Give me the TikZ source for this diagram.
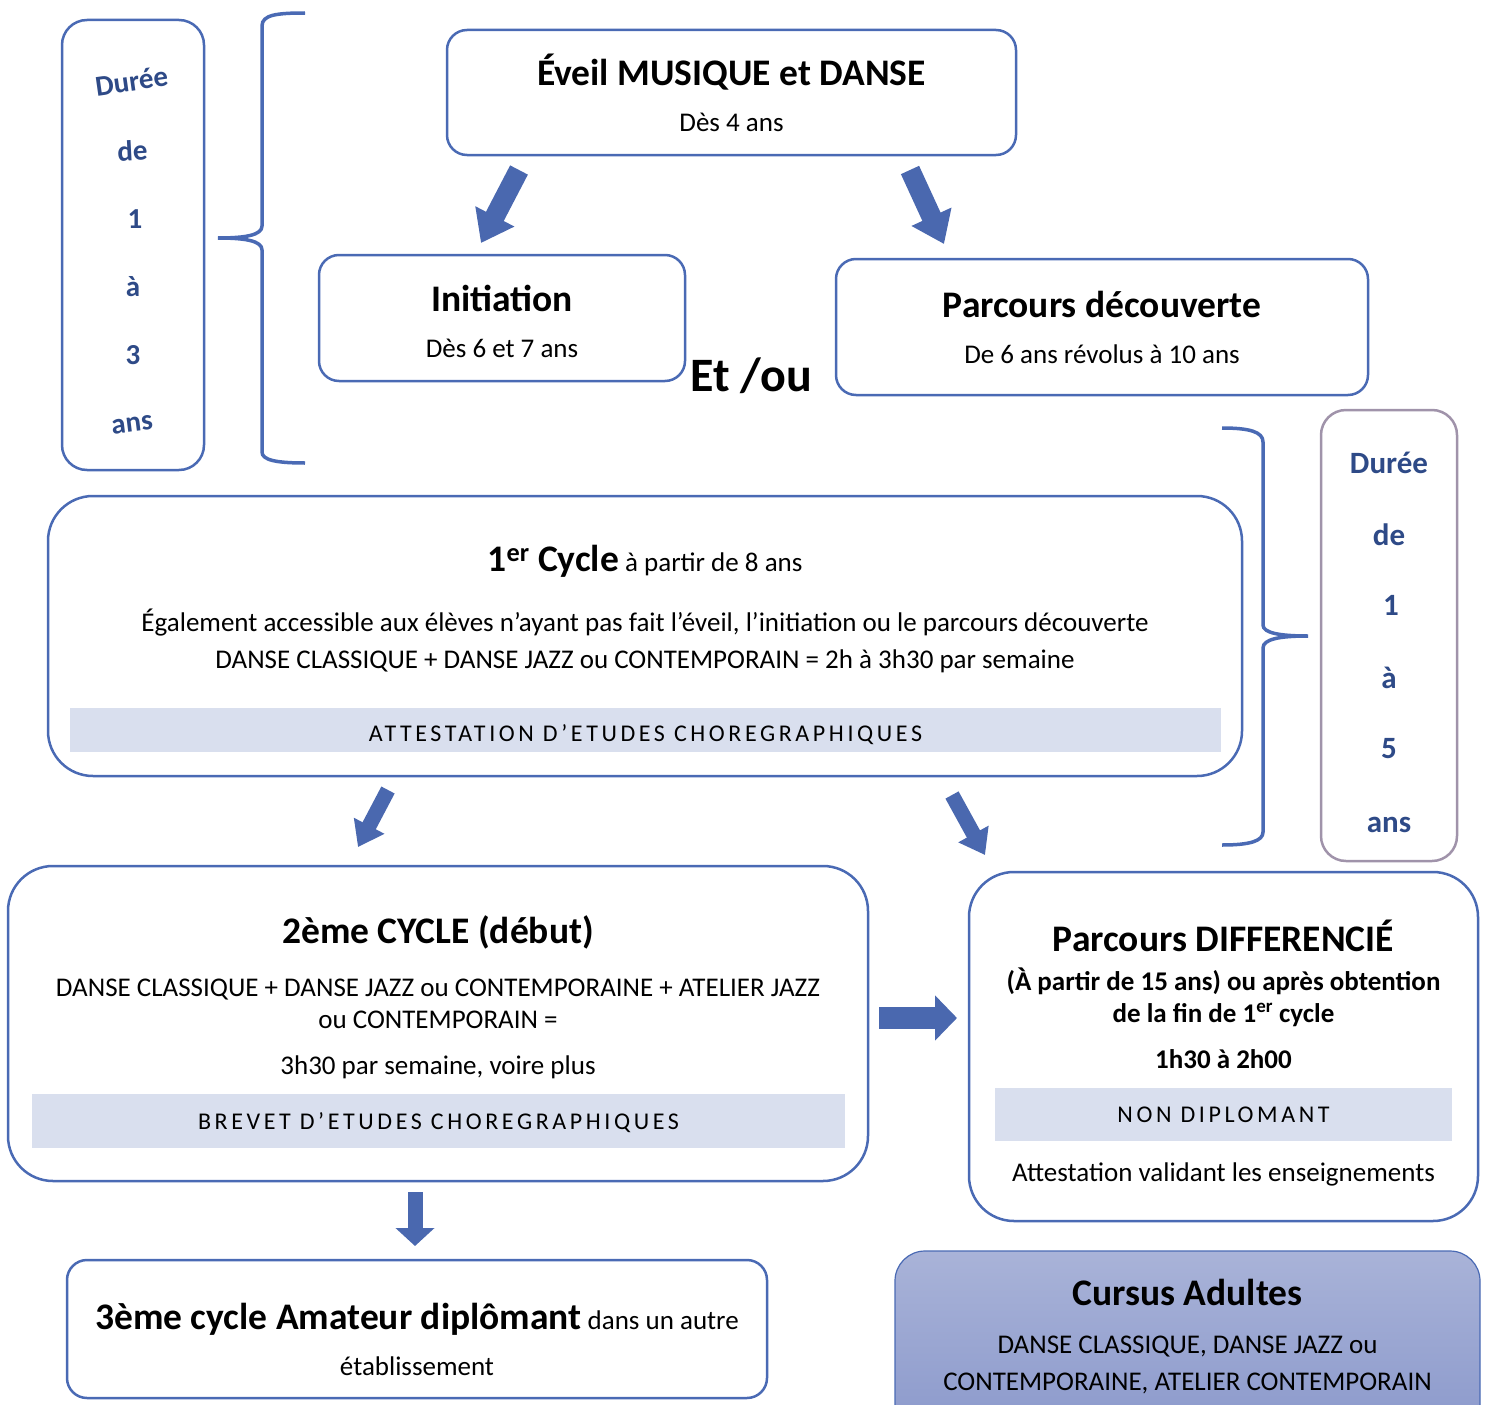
\documentclass[tikz,border=0pt]{standalone}
\usepackage{fontspec}
\setmainfont{Carlito}
\newfontfamily\spacedfont[LetterSpace=15]{Carlito}
\usetikzlibrary{arrows.meta}
\definecolor{boxblue}{HTML}{4A6AB4}
\definecolor{arrowblue}{HTML}{4A68AF}
\definecolor{darkblue}{HTML}{2E4A87}
\definecolor{bandfill}{HTML}{D9DFEE}
\definecolor{greyframe}{HTML}{A093AA}
\definecolor{adulttop}{HTML}{A9B3D8}
\definecolor{adultbot}{HTML}{8A98CB}
\tikzset{
  stage/.style    = { draw=boxblue, line width=2.5pt, rounded corners=#1, outer sep=0pt, inner sep=0pt },
  stage/.default  = 20pt,
  band/.style     = { fill=bandfill, outer sep=0pt, inner sep=0pt },
  heading/.style  = { anchor=base, font=\fontsize{37.5}{44}\selectfont\bfseries },
  body/.style     = { anchor=base, font=\fontsize{27}{32}\selectfont },
  bodybf/.style   = { anchor=base, font=\fontsize{27}{32}\selectfont\bfseries },
  spaced/.style   = { anchor=base, font=\fontsize{24}{29}\selectfont\spacedfont },
  duree/.style    = { anchor=base, text=darkblue, font=\fontsize{#1}{34}\selectfont\bfseries },
  duree/.default  = 31,
  bigarrow/.style n args = {3}{ draw=arrowblue, line width=#1, -{Triangle[width=#2, length=#3]} },
  brace/.style    = { draw=boxblue, line width=3.5pt }
}

\begin{document}
\begin{tikzpicture}[x=1pt, y=-1pt]
  \clip (0,0) rectangle (1486,1405);
  % Draw all boxes
  \node[stage, minimum width=569pt, minimum height=125pt] (eveil) at (731.5,92.5) {};
  \node[stage, minimum width=366pt, minimum height=126pt] (init) at (502,318) {};
  \node[stage, minimum width=532pt, minimum height=136pt] (decouv) at (1102,327) {};
  \node[stage=45pt, minimum width=1194pt, minimum height=280pt] (cycle1) at (645,636) {};
  \node[stage=45pt, minimum width=860pt, minimum height=315pt] (cycle2) at (438,1023.5) {};
  \node[stage=45pt, minimum width=509pt, minimum height=349pt] (diff) at (1223.5,1046.5) {};
  \node[stage, minimum width=700pt, minimum height=138pt] (cycle3) at (417,1329) {};
  \node[stage=30pt, line width=1.2pt, top color=adulttop, bottom color=adultbot,
        minimum width=585pt, minimum height=190pt] (adult) at (1187.5,1346) {};
  \node[stage=25pt, minimum width=142pt, minimum height=450pt] (duree1) at (133,245) {};
  \node[stage=25pt, draw=greyframe, minimum width=136pt, minimum height=451pt] (duree2) at (1389,635.5) {};
  % Draw bands
  \node[band, minimum width=1151pt, minimum height=44pt] (attest) at (645.5,730) {};
  \node[band, minimum width=813pt, minimum height=54pt] (brevet) at (438.5,1121) {};
  \node[band, minimum width=457pt, minimum height=53pt] (nondipl) at (1223.5,1114.5) {};
  % Draw texts
  \node[heading] (eveilT) at (731.5,85) {Éveil MUSIQUE et DANSE};
  \node[body] (eveilA) at (731.5,131) {Dès 4 ans};
  \node[heading] (initT) at (502,311) {Initiation};
  \node[body] (initA) at (502,357) {Dès 6 et 7 ans};
  \node[heading] (decouvT) at (1102,317) {Parcours découverte};
  \node[body] (decouvA) at (1102,363) {De 6 ans révolus à 10 ans};
  \node[anchor=base, font=\fontsize{48}{54}\selectfont\bfseries] (etou) at (751,391) {Et /ou};
  \node[body] (cycle1T) at (645,571) {{\fontsize{37.5}{44}\selectfont\bfseries 1\textsuperscript{er} Cycle} à partir de 8 ans};
  \node[body] (cycle1A) at (645,631) {Également accessible aux élèves n’ayant pas fait l’éveil, l’initiation ou le parcours découverte};
  \node[body] (cycle1B) at (645,668) {DANSE CLASSIQUE + DANSE JAZZ ou CONTEMPORAIN = 2h à 3h30 par semaine};
  \node[spaced] (attestT) at (645.5,741) {ATTESTATION D’ETUDES CHOREGRAPHIQUES};
  \node[heading] (cycle2T) at (438,943) {2ème CYCLE (début)};
  \node[body] (cycle2A) at (438,996) {DANSE CLASSIQUE + DANSE JAZZ ou CONTEMPORAINE + ATELIER JAZZ};
  \node[body] (cycle2B) at (438,1028) {ou CONTEMPORAIN =};
  \node[body] (cycle2C) at (438,1074) {3h30 par semaine, voire plus};
  \node[spaced] (brevetT) at (438.5,1129) {BREVET D’ETUDES CHOREGRAPHIQUES};
  \node[heading] (diffT) at (1223.5,951) {Parcours DIFFERENCIÉ};
  \node[bodybf] (diffA) at (1223.5,990) {(À partir de 15 ans) ou après obtention};
  \node[bodybf] (diffB) at (1223.5,1022) {de la fin de 1\textsuperscript{er} cycle};
  \node[bodybf] (diffC) at (1223.5,1068) {1h30 à 2h00};
  \node[spaced] (nondiplT) at (1223.5,1122) {NON DIPLOMANT};
  \node[body] (diffD) at (1223.5,1181) {Attestation validant les enseignements};
  \node[body] (cycle3T) at (417,1329) {{\fontsize{37.5}{44}\selectfont\bfseries 3ème cycle Amateur diplômant} dans un autre};
  \node[body] (cycle3A) at (417,1375) {établissement};
  \node[heading] (adultT) at (1187.5,1305) {Cursus Adultes};
  \node[body] (adultA) at (1187.5,1353) {DANSE CLASSIQUE, DANSE JAZZ ou};
  \node[body] (adultB) at (1187.5,1390) {CONTEMPORAINE, ATELIER CONTEMPORAIN};
  % Draw durations
  \node[duree=29, rotate=8] (d1a) at (133,91) {Durée};
  \node[duree=29, rotate=3] (d1b) at (133,161) {de};
  \node[duree=29] (d1c) at (135,228) {1};
  \node[duree=29] (d1d) at (133,296) {à};
  \node[duree=29] (d1e) at (133,364) {3};
  \node[duree=29, rotate=7] (d1f) at (133,432) {ans};
  \node[duree] (d2a) at (1389,473) {Durée};
  \node[duree] (d2b) at (1389,545) {de};
  \node[duree] (d2c) at (1391,615) {1};
  \node[duree] (d2d) at (1389,688) {à};
  \node[duree] (d2e) at (1389,758) {5};
  \node[duree] (d2f) at (1389,832) {ans};
  % Draw braces
  \draw[brace] (305,13) .. controls (276,13) and (262,15) .. (262,26) -- (262,226)
    .. controls (262,235) and (246,238) .. (218,238)
    .. controls (246,238) and (262,241) .. (262,250) -- (262,452)
    .. controls (262,460) and (276,463) .. (305,463);
  \draw[brace] (1222,428) .. controls (1250,428) and (1263,432) .. (1263,442) -- (1263,625)
    .. controls (1263,633) and (1280,636) .. (1308,636)
    .. controls (1280,636) and (1263,639) .. (1263,648) -- (1263,832)
    .. controls (1263,841) and (1250,845) .. (1222,845);
  % Draw arrows
  \draw[bigarrow={20pt}{42pt}{30pt}] ([shift={(72,15)}]eveil.south west) -- ([shift={(162,-12)}]init.north west);
  \draw[bigarrow={20pt}{42pt}{30pt}] ([shift={(-106,15)}]eveil.south east) -- ([shift={(108,-15)}]decouv.north west);
  \draw[bigarrow={15pt}{33pt}{24pt}] ([shift={(340,14)}]cycle1.south west) -- ([shift={(350,-19)}]cycle2.north west);
  \draw[bigarrow={15pt}{33pt}{24pt}] ([shift={(904,19)}]cycle1.south west) -- ([shift={(16,-17)}]diff.north west);
  \draw[bigarrow={22pt}{44pt}{22pt}] ([shift={(11,-5.5)}]cycle2.east) -- ([shift={(-12,-28.5)}]diff.west);
  \draw[bigarrow={15pt}{38pt}{18pt}] ([shift={(-23,11)}]cycle2.south) -- ([shift={(-2,-14)}]cycle3.north);
\end{tikzpicture}
\end{document}
